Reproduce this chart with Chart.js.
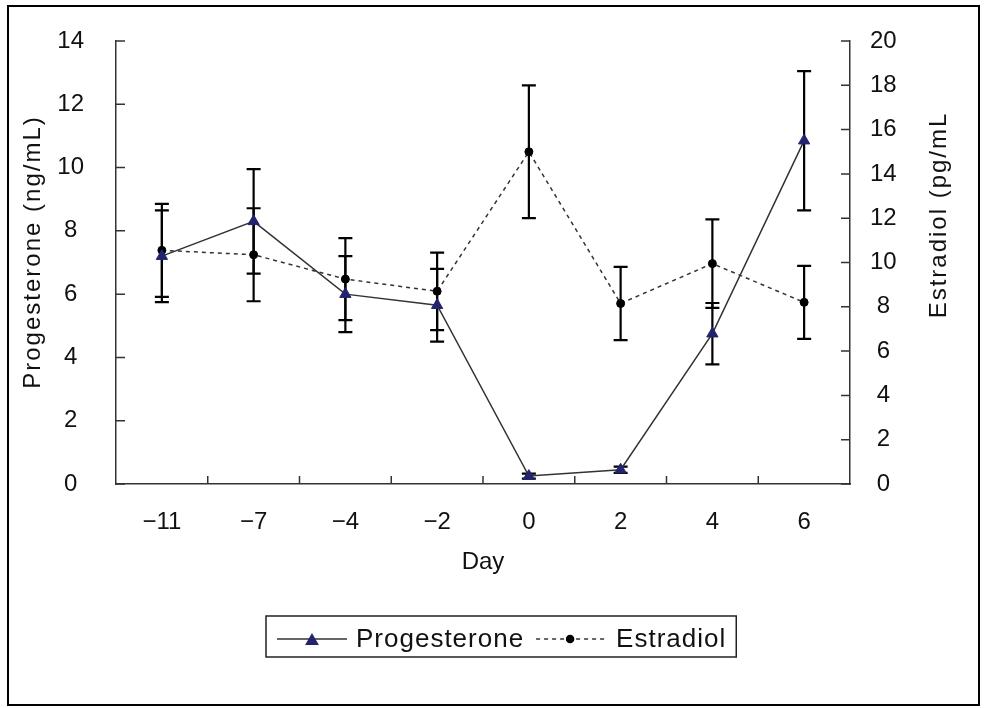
<!DOCTYPE html>
<html>
<head>
<meta charset="utf-8">
<script src="https://cdn.jsdelivr.net/npm/chart.js@4.4.0/dist/chart.umd.min.js"></script>
<style>
  html, body { margin: 0; padding: 0; background: #fff; }
  canvas { display: block; }
</style>
</head>
<body>
<canvas id="canvas" width="986" height="708"></canvas>
<script>
// values (mean and error)
const days = ['\u221211', '\u22127', '\u22124', '\u22122', '0', '2', '4', '6'];
const progesterone = [7.2, 8.3, 6.0, 5.65, 0.25, 0.45, 4.75, 10.85];
const progesteroneErr = [1.45, 1.65, 1.2, 1.15, 0.08, 0.1, 0.97, 2.2];
const estradiol = [10.55, 10.35, 9.25, 8.7, 15.0, 8.15, 9.95, 8.2];
const estradiolErr = [2.1, 2.1, 1.85, 1.75, 3.0, 1.65, 2.0, 1.65];

const xTitle = 'Day';
const leftTitle = 'Progesterone (ng/mL)';
const rightTitle = 'Estradiol (pg/mL';

const FONT = '"Liberation Sans", Arial, sans-serif';
Chart.defaults.font.family = FONT;
Chart.defaults.color = '#111';

// error bars, inner ticks, titles, boxed legend, outer frame
const extras = {
    id: 'extras',
    beforeDatasetsDraw(chart) {
        const ctx = chart.ctx;
        const xs = chart.scales.x;
        ctx.save();
        ctx.strokeStyle = '#000';
        ctx.lineWidth = 2.2;
        chart.data.datasets.forEach(function(ds) {
            const ys = chart.scales[ds.yAxisID];
            ds.data.forEach(function(v, i) {
                const px = xs.getPixelForValue(i);
                const top = ys.getPixelForValue(v + ds.errors[i]);
                const bot = ys.getPixelForValue(v - ds.errors[i]);
                ctx.beginPath();
                ctx.moveTo(px, top); ctx.lineTo(px, bot);
                ctx.moveTo(px - 7, top); ctx.lineTo(px + 7, top);
                ctx.moveTo(px - 7, bot); ctx.lineTo(px + 7, bot);
                ctx.stroke();
            });
        });
        ctx.restore();
    },
    afterDraw(chart) {
        const ctx = chart.ctx;
        const area = chart.chartArea;
        const xs = chart.scales.x, yl = chart.scales.y, yr = chart.scales.y1;
        ctx.save();

        // tick marks pointing into the plot
        ctx.strokeStyle = '#333';
        ctx.lineWidth = 1.5;
        ctx.beginPath();
        for (let i = 1; i < days.length; i++) {
            const px = xs.getPixelForValue(i - 0.5);
            ctx.moveTo(px, area.bottom); ctx.lineTo(px, area.bottom - 8);
        }
        yl.ticks.forEach(function(t) {
            const py = yl.getPixelForValue(t.value);
            ctx.moveTo(area.left, py); ctx.lineTo(area.left + 9, py);
        });
        yr.ticks.forEach(function(t) {
            const py = yr.getPixelForValue(t.value);
            ctx.moveTo(area.right, py); ctx.lineTo(area.right - 9, py);
        });
        ctx.stroke();

        // y axis titles, both read bottom to top
        ctx.fillStyle = '#111';
        ctx.font = '24px ' + FONT;
        ctx.letterSpacing = '2px';
        ctx.textAlign = 'center';
        ctx.textBaseline = 'middle';
        ctx.save();
        ctx.translate(33, 252);
        ctx.rotate(-Math.PI / 2);
        ctx.fillText(leftTitle, 0, 0);
        ctx.restore();
        ctx.save();
        ctx.translate(939, 215);
        ctx.rotate(-Math.PI / 2);
        ctx.fillText(rightTitle, 0, 0);
        ctx.restore();

        // legend in a box
        ctx.font = '26px ' + FONT;
        ctx.letterSpacing = '1px';
        ctx.textAlign = 'left';
        ctx.textBaseline = 'alphabetic';
        const sets = chart.data.datasets;
        const w1 = ctx.measureText(sets[0].label).width;
        const w2 = ctx.measureText(sets[1].label).width;
        const bx = 266, by = 616, bh = 41;
        const bw = 11 + 70 + 9 + w1 + 12 + 68 + 12 + w2 + 10;
        ctx.lineWidth = 1.5;
        ctx.strokeStyle = '#222';
        ctx.strokeRect(bx, by, bw, bh);
        let cx = bx + 11;
        const ly = 639;
        sets.forEach(function(ds, k) {
            const len = k === 0 ? 70 : 68;
            ctx.save();
            ctx.strokeStyle = ds.borderColor;
            ctx.lineWidth = ds.borderWidth;
            ctx.setLineDash(ds.borderDash || []);
            ctx.beginPath();
            ctx.moveTo(cx, ly); ctx.lineTo(cx + len, ly);
            ctx.stroke();
            ctx.restore();
            ctx.fillStyle = ds.pointBackgroundColor;
            ctx.strokeStyle = ds.pointBorderColor;
            Chart.helpers.drawPoint(ctx, {
                pointStyle: ds.pointStyle,
                radius: k === 0 ? 6.5 : 3.5,
                rotation: 0,
                borderWidth: 1
            }, cx + len / 2, k === 0 ? 641 : ly);
            ctx.fillStyle = '#111';
            ctx.fillText(ds.label, cx + len + (k === 0 ? 9 : 12), 647);
            cx += len + (k === 0 ? 9 : 12) + (k === 0 ? w1 : w2) + 12;
        });

        // outer frame
        ctx.letterSpacing = '0px';
        ctx.strokeStyle = '#000';
        ctx.lineWidth = 2;
        ctx.strokeRect(8, 6, 971, 699);
        ctx.restore();
    }
};

// y axes: fixed width, and no extra room above/below for labels
function fitY(width) {
    return function(scale) {
        scale.width = width;
        scale.paddingTop = 0;
        scale.paddingBottom = 0;
    };
}

var config = {
    type: 'line',
    data: {
        labels: days,
        datasets: [{
            label: 'Progesterone',
            data: progesterone,
            errors: progesteroneErr,
            yAxisID: 'y',
            borderColor: '#333',
            borderWidth: 1.5,
            pointStyle: 'triangle',
            pointRadius: 6.5,
            pointBackgroundColor: '#23236e',
            pointBorderColor: '#23236e',
            pointBorderWidth: 1,
            tension: 0
        }, {
            label: 'Estradiol',
            data: estradiol,
            errors: estradiolErr,
            yAxisID: 'y1',
            borderColor: '#333',
            borderWidth: 1.5,
            borderDash: [4, 4],
            pointStyle: 'circle',
            pointRadius: 4,
            pointBackgroundColor: '#000',
            pointBorderColor: '#000',
            pointBorderWidth: 1,
            tension: 0
        }]
    },
    options: {
        responsive: false,
        animation: false,
        devicePixelRatio: 1,
        layout: { padding: { top: 41, left: 0, right: 0, bottom: 0 } },
        plugins: {
            legend: { display: false },
            tooltip: { enabled: false }
        },
        scales: {
            x: {
                type: 'category',
                offset: true,
                grid: { drawOnChartArea: false, drawTicks: false, offset: true },
                border: { display: true, color: '#333', width: 1.5 },
                ticks: { padding: 24, font: { size: 24 }, color: '#111', maxRotation: 0 },
                title: { display: true, text: xTitle, font: { size: 24 }, color: '#111', padding: { top: 0, bottom: 131 } },
                afterFit: function(scale) { scale.height = 708 - 484; }
            },
            y: {
                position: 'left',
                min: 0,
                max: 14,
                ticks: { stepSize: 2, padding: 32, crossAlign: 'center', font: { size: 24 }, color: '#111' },
                grid: { drawOnChartArea: false, drawTicks: false },
                border: { display: true, color: '#333', width: 1.5 },
                afterFit: fitY(116)
            },
            y1: {
                position: 'right',
                min: 0,
                max: 20,
                ticks: { stepSize: 2, padding: 20, crossAlign: 'center', font: { size: 24 }, color: '#111' },
                grid: { drawOnChartArea: false, drawTicks: false },
                border: { display: true, color: '#333', width: 1.5 },
                afterFit: fitY(986 - 850)
            }
        }
    },
    plugins: [extras]
};

var ctx = document.getElementById('canvas').getContext('2d');
window.myLine = new Chart(ctx, config);
</script>
</body>
</html>
